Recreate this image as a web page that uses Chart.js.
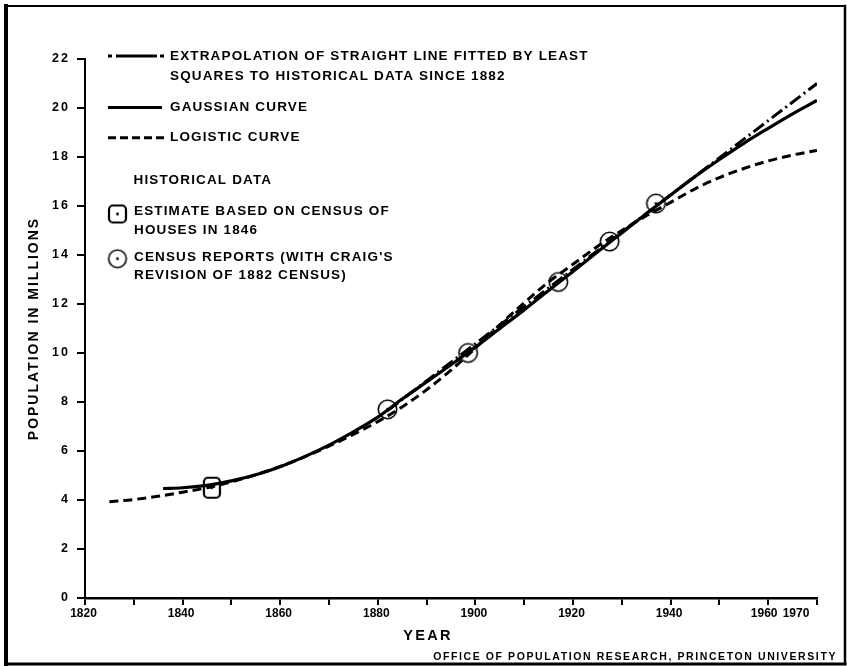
<!DOCTYPE html>
<html>
<head>
<meta charset="utf-8">
<script src="https://cdn.jsdelivr.net/npm/chart.js@4.4.1/dist/chart.umd.min.js"></script>
<style>
  html, body { margin: 0; padding: 0; background: #fff; }
  canvas { display: block; }
</style>
</head>
<body>
<canvas id="chart" width="847" height="666"></canvas>
<script>
// ---- data (population in millions) ----
const gaussYears  = [1836, 1840, 1845, 1850, 1855, 1860, 1865, 1870, 1875, 1880, 1885, 1890, 1895, 1900, 1905, 1910, 1915, 1920, 1925, 1930, 1935, 1940, 1945, 1950, 1955, 1960, 1965, 1970];
const gaussValues = [4.47, 4.50, 4.60, 4.78, 5.03, 5.36, 5.77, 6.24, 6.78, 7.38, 8.12, 8.82, 9.52, 10.24, 11.00, 11.76, 12.55, 13.33, 14.12, 14.90, 15.68, 16.45, 17.20, 17.90, 18.56, 19.17, 19.76, 20.31];

const logisticYears  = [1825, 1830, 1835, 1840, 1845, 1850, 1855, 1860, 1865, 1870, 1875, 1880, 1885, 1890, 1895, 1900, 1905, 1910, 1915, 1920, 1925, 1930, 1935, 1940, 1945, 1950, 1955, 1960, 1965, 1970];
const logisticValues = [3.93, 4.02, 4.15, 4.32, 4.50, 4.74, 5.03, 5.37, 5.76, 6.20, 6.68, 7.20, 7.80, 8.50, 9.30, 10.20, 11.15, 12.05, 12.90, 13.62, 14.35, 15.00, 15.60, 16.15, 16.70, 17.16, 17.53, 17.84, 18.08, 18.27];

const trendYears  = [1882, 1970];
const trendValues = [7.65, 21.0];

const estimateYears  = [1846];
const estimateValues = [4.5];

const censusYears  = [1882, 1898.5, 1917, 1927.5, 1937];
const censusValues = [7.7, 10.0, 12.9, 14.55, 16.1];

const yTickValues  = [0, 2, 4, 6, 8, 10, 12, 14, 16, 18, 20, 22];
const xTickYears   = [1820, 1830, 1840, 1850, 1860, 1870, 1880, 1890, 1900, 1910, 1920, 1930, 1940, 1950, 1960, 1970];
const xLabelYears  = [1820, 1840, 1860, 1880, 1900, 1920, 1940, 1960, 1970];

const legendRows = [
  { x: 170, y: 56,    text: 'EXTRAPOLATION OF STRAIGHT LINE FITTED BY LEAST' },
  { x: 170, y: 76.7,  text: 'SQUARES TO HISTORICAL DATA SINCE 1882' },
  { x: 170, y: 107.3, text: 'GAUSSIAN CURVE' },
  { x: 170, y: 137.7, text: 'LOGISTIC CURVE' },
  { x: 133.5, y: 180.7, text: 'HISTORICAL DATA' },
  { x: 134, y: 211.7, text: 'ESTIMATE BASED ON CENSUS OF' },
  { x: 134, y: 230,   text: 'HOUSES IN 1846' },
  { x: 134, y: 257.7, text: "CENSUS REPORTS (WITH CRAIG'S" },
  { x: 134, y: 275.7, text: 'REVISION OF 1882 CENSUS)' }
];

const FONT = '"Liberation Sans", Arial, sans-serif';
const INK = '#000';

const pts = (xs, ys) => xs.map((x, i) => ({ x: x, y: ys[i] }));

// ---- marker glyphs: open circle / rounded square with a centre dot ----
function circleMarker(r) {
  const s = Math.ceil(r * 2 + 4);
  const cv = document.createElement('canvas');
  cv.width = s; cv.height = s;
  const g = cv.getContext('2d');
  g.strokeStyle = INK; g.lineWidth = 1.6;
  g.beginPath(); g.arc(s / 2, s / 2, r, 0, Math.PI * 2); g.stroke();
  g.fillStyle = INK;
  g.beginPath(); g.arc(s / 2, s / 2, 1.4, 0, Math.PI * 2); g.fill();
  return cv;
}
function squareMarker(w, h) {
  const cv = document.createElement('canvas');
  cv.width = Math.ceil(w + 4); cv.height = Math.ceil(h + 4);
  const g = cv.getContext('2d');
  g.strokeStyle = INK; g.lineWidth = 2.2;
  g.beginPath(); g.roundRect(2, 2, w, h, 4); g.stroke();
  g.fillStyle = INK;
  g.beginPath(); g.arc(cv.width / 2, cv.height / 2, 1.4, 0, Math.PI * 2); g.fill();
  return cv;
}
const censusGlyph = circleMarker(9.2);
const estimateGlyph = squareMarker(16, 20);
const legendCircle = circleMarker(8.8);
const legendSquare = squareMarker(17, 17);

// label nudges along the x axis (the last two labels sit close together)
const xLabelShift = { 1960: -4, 1970: -21 };

// ---- frame, legend block and free-standing lettering ----
const decor = {
  id: 'decor',
  beforeDraw(chart) {
    const c = chart.ctx;
    c.save();
    c.fillStyle = '#fff';
    c.fillRect(0, 0, chart.width, chart.height);
    c.strokeStyle = INK;
    c.lineCap = 'square';
    const seg = (w, x1, y1, x2, y2) => { c.lineWidth = w; c.beginPath(); c.moveTo(x1, y1); c.lineTo(x2, y2); c.stroke(); };
    seg(2, 5, 6, 845, 6);
    seg(4, 6, 6, 6, 664);
    seg(2.5, 845, 6, 845, 664);
    seg(3, 6, 664, 845, 664);
    c.restore();
    c.letterSpacing = '2px';
  },
  afterDraw(chart) {
    const c = chart.ctx;
    const xs = chart.scales.x;
    c.save();
    c.fillStyle = INK;
    c.strokeStyle = INK;
    c.textBaseline = 'middle';

    // x tick labels
    c.font = 'bold 12px ' + FONT;
    c.letterSpacing = '0px';
    c.textAlign = 'center';
    xLabelYears.forEach(v => {
      const shift = xLabelShift[v] !== undefined ? xLabelShift[v] : -1.5;
      c.fillText(String(v), xs.getPixelForValue(v) + shift, 614);
    });

    // x axis title
    c.font = 'bold 14.5px ' + FONT;
    c.letterSpacing = '2.3px';
    c.fillText('YEAR', 428, 636);

    // credit line
    c.font = 'bold 10.5px ' + FONT;
    c.letterSpacing = '1.6px';
    c.textAlign = 'right';
    c.fillText('OFFICE OF POPULATION RESEARCH, PRINCETON UNIVERSITY', 837, 657);

    // legend texts
    c.font = 'bold 13.5px ' + FONT;
    c.letterSpacing = '1.15px';
    c.textAlign = 'left';
    legendRows.forEach(r => c.fillText(r.text, r.x, r.y));

    // legend line samples
    c.letterSpacing = '0px';
    c.lineWidth = 3;
    c.lineCap = 'butt';
    const line = (x1, x2, y) => { c.beginPath(); c.moveTo(x1, y); c.lineTo(x2, y); c.stroke(); };
    line(108, 112, 56); line(116, 157, 56); line(160, 164, 56);
    line(108, 162, 107.5);
    c.setLineDash([8, 4]);
    line(108, 164, 137.7);
    c.setLineDash([]);

    // legend markers
    c.drawImage(legendSquare, 117.5 - legendSquare.width / 2, 214 - legendSquare.height / 2);
    c.drawImage(legendCircle, 117.5 - legendCircle.width / 2, 258.7 - legendCircle.height / 2);
    c.restore();
  }
};

const tickFont = { family: FONT, size: 12.5, weight: 'bold' };

new Chart(document.getElementById('chart'), {
  type: 'line',
  data: {
    datasets: [
      {
        label: 'Extrapolation of straight line fitted by least squares to historical data since 1882',
        data: pts(trendYears, trendValues),
        borderColor: INK, borderWidth: 3, borderDash: [13, 4, 2, 4],
        pointRadius: 0, fill: false
      },
      {
        label: 'Gaussian curve',
        data: pts(gaussYears, gaussValues),
        borderColor: INK, borderWidth: 3.2, cubicInterpolationMode: 'monotone',
        pointRadius: 0, fill: false
      },
      {
        label: 'Logistic curve',
        data: pts(logisticYears, logisticValues),
        borderColor: INK, borderWidth: 3, borderDash: [9, 5], cubicInterpolationMode: 'monotone',
        pointRadius: 0, fill: false
      },
      {
        type: 'scatter',
        label: 'Estimate based on census of houses in 1846',
        data: pts(estimateYears, estimateValues),
        pointStyle: estimateGlyph, pointRadius: 10, showLine: false
      },
      {
        type: 'scatter',
        label: "Census reports (with Craig's revision of 1882 census)",
        data: pts(censusYears, censusValues),
        pointStyle: censusGlyph, pointRadius: 10, showLine: false
      }
    ]
  },
  options: {
    responsive: false,
    animation: false,
    devicePixelRatio: 1,
    events: [],
    layout: { padding: { left: 0, top: 59, right: 30, bottom: 0 } },
    plugins: { legend: { display: false }, tooltip: { enabled: false } },
    scales: {
      x: {
        type: 'linear',
        min: 1820, max: 1970,
        afterBuildTicks: s => { s.ticks = xTickYears.map(v => ({ value: v })); },
        afterFit: s => { s.height = 68; },
        ticks: { display: false },
        grid: { display: true, drawOnChartArea: false, drawTicks: true, tickLength: 7, color: INK, lineWidth: 2 },
        border: { display: true, color: INK, width: 2.5 }
      },
      y: {
        type: 'linear',
        min: 0, max: 22,
        afterBuildTicks: s => { s.ticks = yTickValues.map(v => ({ value: v })); },
        afterFit: s => { s.width = 85; },
        ticks: { color: INK, font: tickFont, padding: 7 },
        grid: { display: true, drawOnChartArea: false, drawTicks: true, tickLength: 8, color: INK, lineWidth: 2 },
        border: { display: true, color: INK, width: 2 },
        title: {
          display: true,
          text: 'POPULATION IN MILLIONS',
          color: INK,
          font: { family: FONT, size: 14, weight: 'bold' },
          padding: { top: 26, bottom: 0 }
        }
      }
    }
  },
  plugins: [decor]
});
</script>
</body>
</html>
